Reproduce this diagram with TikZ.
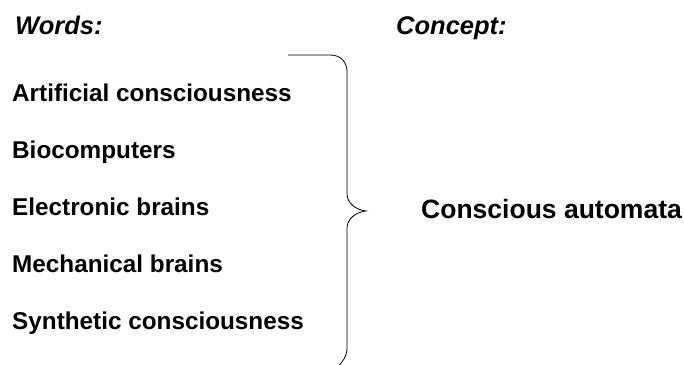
\documentclass[tikz,border=0pt]{standalone}
\usepackage{fontspec}
\setmainfont{Liberation Sans}
\usetikzlibrary{positioning}

\tikzset{
  heading/.style={font=\fontsize{25.5}{30}\selectfont\bfseries\itshape, anchor=base west, inner sep=0pt},
  wordlabel/.style={font=\fontsize{24.3}{29}\selectfont\bfseries, anchor=base west, inner sep=0pt},
  conceptlabel/.style={font=\fontsize{26.5}{31}\selectfont\bfseries, anchor=base west, inner sep=0pt}
}

\begin{document}
\begin{tikzpicture}[x=1pt, y=-1pt]
        \useasboundingbox (0, 0) rectangle (684, 364);
        \clip (0, 0) rectangle (684, 364);
        % Headings
        \node [heading] (words) at (15, 34) {Words:};
        \node [heading] (concept) at (396, 34) {Concept:};
        % Words
        \node [wordlabel] (artificial) at (12, 101.5) {Artificial consciousness};
        \node [wordlabel] (biocomp) at (12, 158.5) {Biocomputers};
        \node [wordlabel] (electronic) at (12, 215.5) {Electronic brains};
        \node [wordlabel] (mechanical) at (12, 272.5) {Mechanical brains};
        \node [wordlabel] (synthetic) at (12, 329.5) {Synthetic consciousness};
        % Concept
        \node [conceptlabel] (automata) at (421, 218) {Conscious automata};
        % Brace
        \coordinate (tip) at (366, 211);
        \draw [line width=0.8pt] (288, 55) -- (330, 55)
            .. controls (341, 55) and (347, 62) .. (347, 72) -- (347, 194)
            .. controls (347, 203) and (356, 210) .. (tip)
            .. controls (356, 212) and (347, 219) .. (347, 228) -- (347, 348)
            .. controls (347, 356) and (343, 362) .. (337, 367);
    \end{tikzpicture}
\end{document}
